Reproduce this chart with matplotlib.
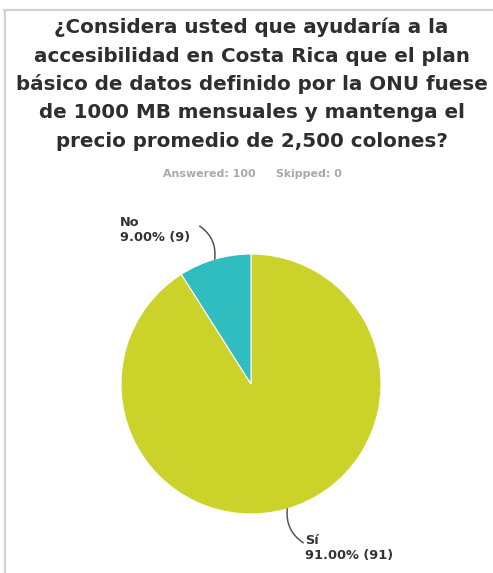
import matplotlib.pyplot as plt
import numpy as np
from matplotlib.lines import Line2D

# survey answers
categorias = ["Sí", "No"]
respuestas = [91, 9]
colores = ["#CBD32A", "#30BDBF"]

titulo = [
    "¿Considera usted que ayudaría a la",
    "accesibilidad en Costa Rica que el plan",
    "básico de datos definido por la ONU fuese",
    "de 1000 MB mensuales y mantenga el",
    "precio promedio de 2,500 colones?",
]
contestadas = 100
omitidas = 0

W, H = 493, 573
R = 130.0          # pie radius in pixels
cx, cy = 251, 384  # pie centre (pixels from top-left)

plt.rcParams['font.family'] = ['DejaVu Sans']

fig = plt.figure(figsize=(W / 100, H / 100), dpi=100)
fig.patch.set_facecolor("white")

# grey panel border (top and left)
fig.add_artist(Line2D([4 / W, 1], [1 - 10 / H, 1 - 10 / H], color="#d2d2d2", lw=1.6))
fig.add_artist(Line2D([4.5 / W, 4.5 / W], [1 - 10 / H, 0], color="#d2d2d2", lw=1.6))

# title, one line at a time
for i, linea in enumerate(titulo):
    base = 33 + i * 28.5
    fig.text(251.5 / W, 1 - base / H, linea, ha="center", va="baseline",
             fontsize=14.3, fontweight="bold", color="#2e2e2e")

fig.text(209.5 / W, 1 - 177 / H, f"Answered: {contestadas}", ha="center", va="baseline",
         fontsize=7.9, fontweight="bold", color="#a8a8a8")
fig.text(308.5 / W, 1 - 177 / H, f"Skipped: {omitidas}", ha="center", va="baseline",
         fontsize=7.9, fontweight="bold", color="#a8a8a8")

# axes in pixel-scaled data units, 1 unit = pie radius
ax = fig.add_axes([0, 0, 1, 1])
wedges, _ = ax.pie(respuestas, colors=colores, startangle=90, counterclock=False,
                   radius=1, wedgeprops=dict(edgecolor="white", linewidth=0.8))
ax.set_xlim(-cx / R, (W - cx) / R)
ax.set_ylim(-(H - cy) / R, cy / R)
ax.axis("off")

total = sum(respuestas)
# leader line offsets (pixels) and text offsets from the line end
salidas = {"Sí": ((16, -34), (2, -5), "left"), "No": ((-15, 33), (-10, -4), "right")}
for w, nombre, n in zip(wedges, categorias, respuestas):
    ang = np.deg2rad((w.theta1 + w.theta2) / 2)
    x0, y0 = np.cos(ang), np.sin(ang)
    (dx, dy), (tx, ty), ha = salidas[nombre]
    x1, y1 = x0 + dx / R, y0 + dy / R
    ax.annotate("", xy=(x0, y0), xytext=(x1, y1),
                arrowprops=dict(arrowstyle="-", color="#555555", lw=1.1,
                                shrinkA=0, shrinkB=0,
                                connectionstyle="arc3,rad=-0.3"))
    ax.text(x1 + tx / R, y1 + ty / R, f"{nombre}\n{n / total * 100:.2f}% ({n})",
            ha=ha, va="center", multialignment="left", fontsize=9.3,
            fontweight="bold", color="#333333", linespacing=1.2)

fig.savefig("out.png", dpi=100, facecolor="white")
